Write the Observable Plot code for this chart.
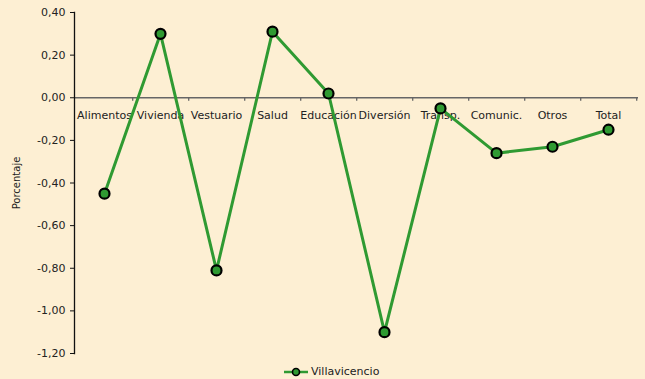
<!DOCTYPE html>
<html>
<head>
<meta charset="utf-8">
<script src="https://cdn.jsdelivr.net/npm/d3@7"></script>
<script src="https://cdn.jsdelivr.net/npm/@observablehq/plot@0.6"></script>
<style>
  html, body { margin: 0; padding: 0; background: #fdefd3; }
  #wrap { position: relative; width: 645px; height: 379px; background: #fdefd3; }
  #legend { position: absolute; left: 284px; top: 365px; font: 11px "DejaVu Sans", Verdana, sans-serif; color: #222; display: flex; align-items: center; }
  #legend svg { margin-right: 3px; }
</style>
</head>
<body>
<div id="wrap"></div>
<script>
const categories = ["Alimentos", "Vivienda", "Vestuario", "Salud", "Educación", "Diversión", "Transp.", "Comunic.", "Otros", "Total"];
const values = [-0.45, 0.30, -0.81, 0.31, 0.02, -1.10, -0.05, -0.26, -0.23, -0.15];
const yTicks = [0.40, 0.20, 0.00, -0.20, -0.40, -0.60, -0.80, -1.00, -1.20];
const seriesName = "Villavicencio";

const data = categories.map((c, i) => ({cat: c, v: values[i]}));
const green = "#2f9a32";
const W = 645, H = 379, ML = 74, MR = 7;
const half = (W - ML - MR) / categories.length / 2;
const fmt = d => d3.format(".2f")(d).replace("−", "-").replace(".", ",");

const chart = Plot.plot({
  width: W,
  height: H,
  marginTop: 12,
  marginBottom: 26,
  marginLeft: ML,
  marginRight: MR,
  style: {background: "#fdefd3", fontFamily: "'DejaVu Sans', Verdana, sans-serif", fontSize: "11px", color: "#222"},
  x: {type: "band", domain: categories, padding: 0, axis: null},
  y: {domain: [-1.2, 0.4]},
  marks: [
    Plot.axisY({ticks: yTicks, tickFormat: fmt, tickSize: 4, tickPadding: 5, fontSize: 11, stroke: "#111",
      label: "Porcentaje", labelAnchor: "center", labelArrow: "none", labelOffset: 62}),
    Plot.ruleY([0], {stroke: "#666", strokeWidth: 1.3}),
    Plot.ruleX(categories, {x: d => d, dx: half, y1: 0, y2: -0.016, stroke: "#666", strokeWidth: 1.3}),
    Plot.frame({anchor: "left", stroke: "#111", strokeWidth: 1.3}),
    Plot.text(categories, {x: d => d, y: 0, dy: 18, text: d => d, fontSize: 11, fill: "#222"}),
    Plot.line(data, {x: "cat", y: "v", stroke: green, strokeWidth: 3}),
    Plot.dot(data, {x: "cat", y: "v", r: 5, fill: green, stroke: "#000", strokeWidth: 2.2})
  ]
});
chart.querySelectorAll("[aria-label='y-axis label'] text").forEach(t => t.setAttribute("font-size", "10"));
const wrap = document.getElementById("wrap");
wrap.appendChild(chart);

const leg = document.createElement("div");
leg.id = "legend";
leg.innerHTML = `<svg width="24" height="12"><line x1="0" y1="6" x2="24" y2="6" stroke="${green}" stroke-width="2.5"/><circle cx="12" cy="6" r="3.5" fill="${green}" stroke="#000" stroke-width="1.6"/></svg><span>${seriesName}</span>`;
wrap.appendChild(leg);
</script>
</body>
</html>
